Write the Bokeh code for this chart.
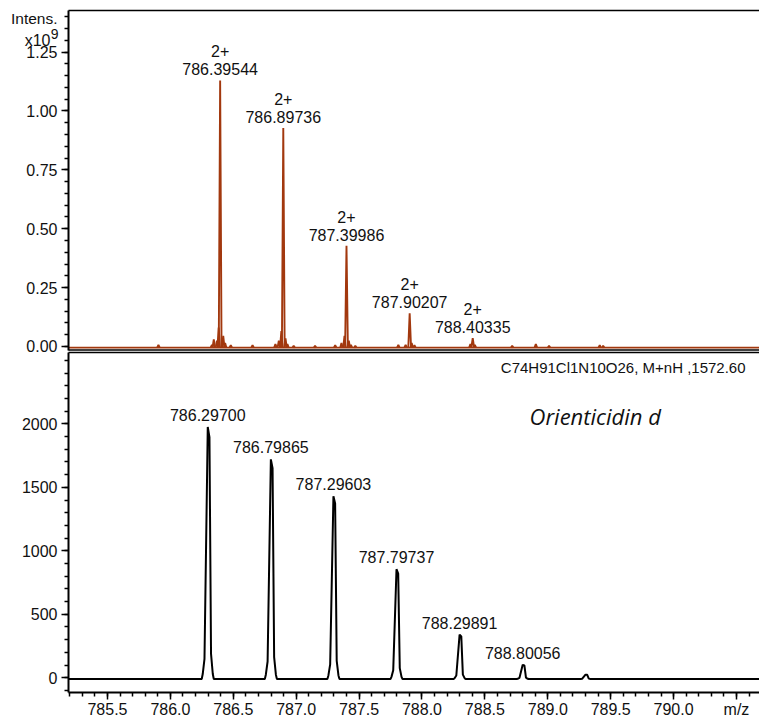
from bokeh.plotting import figure
from bokeh.models import (Range1d, FixedTicker, NumeralTickFormatter, Label, LinearAxis,
                          ColumnDataSource)
from bokeh.embed import file_html
from bokeh.resources import INLINE
from bokeh.core.properties import value

# ---------------- data ----------------
# measured spectrum (top), intensity in units of 1e9
top_mz = [786.39544, 786.89736, 787.39986, 787.90207, 788.40335]
top_int = [1.130, 0.928, 0.428, 0.141, 0.035]
top_charge = ["2+", "2+", "2+", "2+", "2+"]
top_baseline = -0.005

# small satellite / noise peaks of the measured spectrum
noise_mz = [785.905, 786.330, 786.345, 786.370, 786.384, 786.420, 786.435, 786.480, 786.653,
            786.835, 786.862, 786.882, 786.915, 786.930, 786.980,
            787.150, 787.310, 787.360, 787.384, 787.418, 787.435, 787.470,
            787.812, 787.870, 787.918, 787.940,
            788.385, 788.420, 788.717, 788.905, 789.010, 789.413, 789.440]
noise_int = [0.012, 0.012, 0.035, 0.030, 0.085, 0.050, 0.020, 0.010, 0.010,
             0.015, 0.030, 0.070, 0.040, 0.015, 0.008,
             0.008, 0.010, 0.020, 0.050, 0.030, 0.012, 0.008,
             0.012, 0.012, 0.020, 0.010,
             0.015, 0.012, 0.008, 0.015, 0.008, 0.010, 0.008]

# simulated isotope pattern (bottom)
sim_mz = [786.29700, 786.79865, 787.29603, 787.79737, 788.29891, 788.80056, 789.30]
sim_int = [1975, 1720, 1430, 855, 340, 102, 25]
sim_labeled = [True, True, True, True, True, True, False]
sim_baseline = -10

# axis ticks
x_major = [785.5, 786.0, 786.5, 787.0, 787.5, 788.0, 788.5, 789.0, 789.5, 790.0, 790.5]
x_minor = [785.2, 785.3, 785.4, 785.5, 785.6, 785.7, 785.8, 785.9, 786.0, 786.1, 786.2, 786.3,
           786.4, 786.5, 786.6, 786.7, 786.8, 786.9, 787.0, 787.1, 787.2, 787.3, 787.4, 787.5,
           787.6, 787.7, 787.8, 787.9, 788.0, 788.1, 788.2, 788.3, 788.4, 788.5, 788.6, 788.7,
           788.8, 788.9, 789.0, 789.1, 789.2, 789.3, 789.4, 789.5, 789.6, 789.7, 789.8, 789.9,
           790.0, 790.1, 790.2, 790.3, 790.4, 790.5, 790.6]
top_y_major = [0.0, 0.25, 0.5, 0.75, 1.0, 1.25]
top_y_minor = [0.0, 0.05, 0.1, 0.15, 0.2, 0.25, 0.3, 0.35, 0.4, 0.45, 0.5, 0.55, 0.6, 0.65, 0.7,
               0.75, 0.8, 0.85, 0.9, 0.95, 1.0, 1.05, 1.1, 1.15, 1.2, 1.25, 1.3, 1.35, 1.4]
bot_y_major = [0, 500, 1000, 1500, 2000]
bot_y_minor = [-100, 0, 100, 200, 300, 400, 500, 600, 700, 800, 900, 1000, 1100, 1200, 1300,
               1400, 1500, 1600, 1700, 1800, 1900, 2000, 2100, 2200, 2300, 2400, 2500]

# ---------------- layout constants ----------------
FONT = "Liberation Sans"
TXT = "#111111"
TOP_COLOR = "#A2380E"
XF0, XF1 = 784.6494, 790.683          # whole canvas width
XA = 785.19                           # left edge of the data panels (y axes)
BOT_RANGE = (-344.1, 5333.1)          # bottom panel scale over the whole canvas
TOP_RANGE = (-1.5924, 1.4692)         # top panel scale over the whole canvas
TOP_BOUNDS = (-0.0149, 1.4268)
BOT_BOUNDS = (-115.7, 2561.4)

# peak shape template for the simulated pattern (offset in m/z, fraction of height)
shape_dx = [-0.048, -0.040, -0.026, 0.0, 0.0135, 0.026, 0.040, 0.048]
shape_fr = [0.0, 0.02, 0.08, 1.0, 0.96, 0.10, 0.02, 0.0]


def style_axis(ax, major_out=7, minor_out=4):
    ax.axis_line_width = 2
    ax.axis_line_color = "black"
    ax.major_tick_line_width = 1.5
    ax.minor_tick_line_width = 1.5
    ax.major_tick_line_color = "black"
    ax.minor_tick_line_color = "black"
    ax.major_tick_in = 0
    ax.minor_tick_in = 0
    ax.major_tick_out = major_out
    ax.minor_tick_out = minor_out
    ax.major_label_text_font = FONT
    ax.major_label_text_font_size = "16px"
    ax.major_label_text_color = TXT


p = figure(width=759, height=721, output_backend="svg", toolbar_location=None,
           x_range=Range1d(XF0, XF1), y_range=Range1d(*BOT_RANGE),
           x_axis_location=None, y_axis_location=None,
           min_border_left=0, min_border_right=0, min_border_top=0, min_border_bottom=0)
p.extra_y_ranges = {"top": Range1d(*TOP_RANGE)}
p.outline_line_color = None
p.xgrid.visible = False
p.ygrid.visible = False

# axes
ay_top = LinearAxis(y_range_name="top", fixed_location=XA, bounds=TOP_BOUNDS,
                    ticker=FixedTicker(ticks=top_y_major, minor_ticks=top_y_minor),
                    formatter=NumeralTickFormatter(format="0.00"), major_label_standoff=4)
style_axis(ay_top)
p.add_layout(ay_top, "left")

ay_bot = LinearAxis(fixed_location=XA, bounds=BOT_BOUNDS,
                    ticker=FixedTicker(ticks=bot_y_major, minor_ticks=bot_y_minor),
                    major_label_standoff=4)
style_axis(ay_bot)
p.add_layout(ay_bot, "left")

ax_x = LinearAxis(fixed_location=BOT_BOUNDS[0], bounds=(XA, XF1),
                  ticker=FixedTicker(ticks=x_major, minor_ticks=x_minor),
                  formatter=NumeralTickFormatter(format="0.0"), major_label_standoff=2)
style_axis(ax_x, major_out=7, minor_out=4)
ax_x.major_label_overrides = {790.5: "m/z"}
p.add_layout(ax_x, "below")

# frame lines: top border and the double divider between the panels
p.segment(x0=[XA, XA], y0=[TOP_BOUNDS[1], TOP_BOUNDS[0]], x1=[XF1, XF1],
          y1=[TOP_BOUNDS[1], TOP_BOUNDS[0]], y_range_name="top",
          line_color="black", line_width=1.5)
p.segment(x0=[XA], y0=[BOT_BOUNDS[1]], x1=[XF1], y1=[BOT_BOUNDS[1]],
          line_color="black", line_width=1.5)

# ---- top spectrum ----
xs_top = [[XA, XF1]]
ys_top = [[top_baseline, top_baseline]]
for c, h in zip(noise_mz, noise_int):
    xs_top.append([c - 0.010, c, c + 0.010])
    ys_top.append([top_baseline, top_baseline + h, top_baseline])
for c, h in zip(top_mz, top_int):
    xs_top.append([c - 0.011, c, c + 0.011])
    ys_top.append([top_baseline, h, top_baseline])
p.multi_line(xs_top, ys_top, line_color=TOP_COLOR, line_width=1.9, y_range_name="top")

src_top = ColumnDataSource(dict(x=top_mz, y=top_int,
                                mz=[f"{m:.5f}" for m in top_mz], ch=top_charge))
p.text(x="x", y="y", text="mz", source=src_top, text_align="center", text_baseline="alphabetic",
       y_offset=-11, text_font=value(FONT), text_font_size="16px", text_color=TXT,
       y_range_name="top")
p.text(x="x", y="y", text="ch", source=src_top, text_align="center", text_baseline="alphabetic",
       y_offset=-29, text_font=value(FONT), text_font_size="16px", text_color=TXT,
       y_range_name="top")

p.add_layout(Label(x=785.1025, y=1.3928, y_range_name="top", text="Intens.", text_align="right",
                   text_baseline="middle", text_font=FONT, text_font_size="15.5px", text_color=TXT))
p.add_layout(Label(x=785.047, y=1.2994, y_range_name="top", text="x10", text_align="right",
                   text_baseline="middle", text_font=FONT, text_font_size="16px", text_color=TXT))
p.add_layout(Label(x=785.049, y=1.329, y_range_name="top", text="9", text_align="left",
                   text_baseline="middle", text_font=FONT, text_font_size="14px", text_color=TXT))

# ---- bottom simulated pattern ----
bx = [XA]
by = [sim_baseline]
for c, h in zip(sim_mz, sim_int):
    for dx, fr in zip(shape_dx, shape_fr):
        bx.append(c + dx)
        by.append(sim_baseline + fr * (h - sim_baseline))
bx.append(XF1)
by.append(sim_baseline)
p.line(bx, by, line_color="black", line_width=2)

lab_x = [m for m, f in zip(sim_mz, sim_labeled) if f]
lab_y = [h for h, f in zip(sim_int, sim_labeled) if f]
src_bot = ColumnDataSource(dict(x=lab_x, y=lab_y, mz=[f"{m:.5f}" for m in lab_x]))
p.text(x="x", y="y", text="mz", source=src_bot, text_align="center", text_baseline="alphabetic",
       y_offset=-12, text_font=value(FONT), text_font_size="16px", text_color=TXT)

p.add_layout(Label(x=790.572, y=2443, text="C74H91Cl1N10O26, M+nH ,1572.60", text_align="right",
                   text_baseline="alphabetic", text_font=FONT, text_font_size="15px", text_color=TXT))
p.add_layout(Label(x=788.855, y=2060, text="Orienticidin d", text_align="left", text_baseline="middle",
                   text_font="Open Sans", text_font_style="italic", text_font_size="22px",
                   text_color=TXT))

open("out.html", "w").write(file_html(p, INLINE))
